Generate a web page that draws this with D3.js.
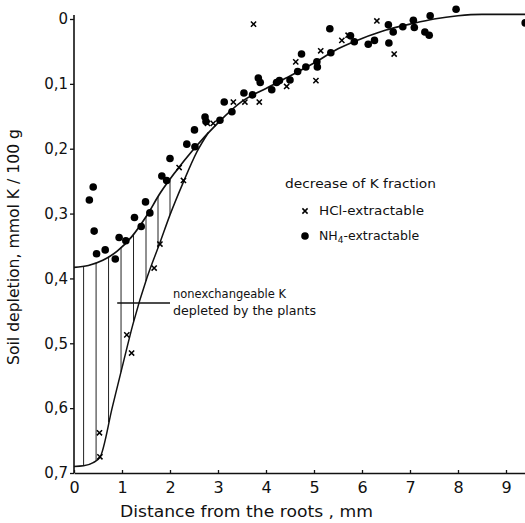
<!DOCTYPE html>
<html><head><meta charset="utf-8">
<script src="https://cdn.jsdelivr.net/npm/d3@7"></script>
<style>
html,body{margin:0;padding:0;background:#fff;}
svg text{font-family:"DejaVu Sans",sans-serif;fill:#111;}
</style>
</head><body>
<svg id="chart" width="525" height="523"></svg>
<script>
// ---- data ----
const xTicks = [0,1,2,3,4,5,6,7,8,9];
const yTicks = [0,0.1,0.2,0.3,0.4,0.5,0.6,0.7];
const yTickLabels = ["0","0,1","0,2","0,3","0,4","0,5","0,6","0,7"];

// NH4-extractable (dots): [distance mm, depletion]
const nh4X = [0.40,0.32,0.42,0.47,0.65,0.86,0.94,1.08,1.26,1.40,1.49,1.58,1.83,1.93,2.00,2.35,2.52,2.51,2.73,2.75,3.04,3.29,3.13,3.54,3.72,3.84,3.88,4.12,4.22,4.28,4.50,4.74,4.66,4.83,5.06,5.07,5.33,5.35,5.76,5.84,6.13,6.26,6.55,6.56,6.65,6.85,7.07,7.09,7.42,7.31,7.40,7.96,9.40];
const nh4Y = [0.259,0.279,0.327,0.362,0.356,0.370,0.337,0.342,0.306,0.320,0.282,0.299,0.242,0.249,0.215,0.193,0.197,0.171,0.151,0.158,0.156,0.143,0.128,0.114,0.117,0.091,0.098,0.109,0.098,0.095,0.094,0.054,0.081,0.074,0.066,0.074,0.015,0.052,0.026,0.035,0.039,0.033,0.009,0.037,0.020,0.012,0.002,0.013,-0.005,0.020,0.025,-0.015,0.006];

// HCl-extractable (crosses)
const hclX = [0.54,0.53,1.10,1.20,1.67,1.79,2.28,2.19,2.78,2.90,3.32,3.56,3.86,3.74,4.43,4.62,5.04,5.14,5.58,5.71,6.31,6.67];
const hclY = [0.675,0.638,0.487,0.515,0.384,0.347,0.249,0.229,0.161,0.161,0.128,0.128,0.128,0.008,0.104,0.066,0.095,0.049,0.033,0.025,0.003,0.054];

// fitted curves
const upperX = [0,0.3,0.6,0.9,1.2,1.5,1.8,2.1,2.5,3.0,3.5,4.0,4.5,5.0,5.5,6.0,6.5,7.0,7.5,8.0,8.5,9.4];
const upperY = [0.383,0.380,0.372,0.358,0.336,0.305,0.268,0.237,0.200,0.160,0.127,0.107,0.088,0.068,0.046,0.030,0.017,0.008,0.000,-0.005,-0.007,-0.007];
const lowerX = [0,0.2,0.4,0.54,0.8,1.0,1.23,1.52,1.79,2.0,2.27,2.56,2.8];
const lowerY = [0.690,0.689,0.684,0.676,0.598,0.538,0.470,0.399,0.345,0.302,0.253,0.205,0.175];

// hatching positions (nonexchangeable K region)
const hatchX = [0.2,0.46,0.72,0.98,1.24,1.5,1.75,2.0];

// ---- scales ----
const svg = d3.select("#chart");
const x = d3.scaleLinear().domain([0,9.4]).range([74,525.2]);
const y = d3.scaleLinear().domain([0,0.7]).range([19,473]);

// axes
const yAxis = d3.axisLeft(y).tickValues(yTicks).tickFormat((d,i)=>yTickLabels[i]).tickSize(4).tickSizeOuter(0).tickPadding(2);
const gy = svg.append("g").attr("transform","translate(74,0)").call(yAxis);
gy.selectAll("text").style("font-size","15px").attr("fill","#111");
gy.select(".domain").attr("stroke","#111").attr("stroke-width",1.6).attr("d","M0,15V473");
gy.selectAll(".tick line").attr("stroke","#111").attr("stroke-width",1.3);

const xAxis = d3.axisBottom(x).tickValues(xTicks).tickFormat(d3.format("d")).tickSize(-3).tickSizeOuter(0).tickPadding(9);
const gx = svg.append("g").attr("transform","translate(0,473)").call(xAxis);
gx.selectAll("text").style("font-size","16px").attr("fill","#111");
gx.select(".domain").attr("stroke","#111").attr("stroke-width",1.6);
gx.selectAll(".tick line").attr("stroke","#111").attr("stroke-width",1.3);

// axis titles
svg.append("text").attr("x",120).attr("y",517).style("font-size","16.5px")
  .attr("textLength",253).attr("lengthAdjust","spacingAndGlyphs").text("Distance from the roots , mm");
svg.append("text").attr("transform","translate(19,365) rotate(-90)")
  .style("font-size","15px").attr("textLength",236).attr("lengthAdjust","spacingAndGlyphs")
  .text("Soil depletion, mmol K / 100 g");

// hatching
const upInterp = d3.scaleLinear().domain(upperX).range(upperY);
const loInterp = d3.scaleLinear().domain(lowerX).range(lowerY);
svg.append("g").selectAll("line").data(hatchX).join("line")
  .attr("x1",d=>x(d)).attr("x2",d=>x(d))
  .attr("y1",d=>y(upInterp(d))).attr("y2",d=>y(loInterp(d)))
  .attr("stroke","#222").attr("stroke-width",1);

// curves
const line = d3.line().x(d=>x(d[0])).y(d=>y(d[1])).curve(d3.curveMonotoneX);
svg.append("path").attr("d",line(upperX.map((v,i)=>[v,upperY[i]])))
  .attr("fill","none").attr("stroke","#111").attr("stroke-width",1.7);
svg.append("path").attr("d",line(lowerX.map((v,i)=>[v,lowerY[i]])))
  .attr("fill","none").attr("stroke","#111").attr("stroke-width",1.5);

// dots
svg.append("g").selectAll("circle").data(nh4X).join("circle")
  .attr("cx",d=>x(d)).attr("cy",(d,i)=>y(nh4Y[i])).attr("r",3.8).attr("fill","#000");

// crosses
const crossPath = (cx,cy,s)=>`M${cx-s},${cy-s}L${cx+s},${cy+s}M${cx-s},${cy+s}L${cx+s},${cy-s}`;
svg.append("g").selectAll("path").data(hclX).join("path")
  .attr("d",(d,i)=>crossPath(x(d),y(hclY[i]),2.6))
  .attr("stroke","#000").attr("stroke-width",1.5).attr("fill","none");

// annotation
svg.append("line").attr("x1",x(0.9)).attr("x2",x(2.0)).attr("y1",y(0.438)).attr("y2",y(0.438))
  .attr("stroke","#111").attr("stroke-width",1.4);
svg.append("text").attr("x",173).attr("y",298).style("font-size","12px")
  .attr("textLength",113).attr("lengthAdjust","spacingAndGlyphs").text("nonexchangeable K");
svg.append("text").attr("x",173).attr("y",315).style("font-size","12px")
  .attr("textLength",143).attr("lengthAdjust","spacingAndGlyphs").text("depleted by the plants");

// legend
svg.append("text").attr("x",285).attr("y",188).style("font-size","12.5px")
  .attr("textLength",151).attr("lengthAdjust","spacingAndGlyphs").text("decrease of K fraction");
svg.append("path").attr("d",crossPath(305,211,2.6)).attr("stroke","#000").attr("stroke-width",1.5);
svg.append("text").attr("x",319).attr("y",215).style("font-size","12.5px")
  .attr("textLength",105).attr("lengthAdjust","spacingAndGlyphs").text("HCl-extractable");
svg.append("circle").attr("cx",305).attr("cy",236).attr("r",3.8).attr("fill","#000");
const t = svg.append("text").attr("x",319).attr("y",240).style("font-size","12.5px");
t.append("tspan").text("NH");
t.append("tspan").attr("dy",3).style("font-size","9px").text("4");
t.append("tspan").attr("dy",-3).text("-extractable");
</script>
</body></html>
